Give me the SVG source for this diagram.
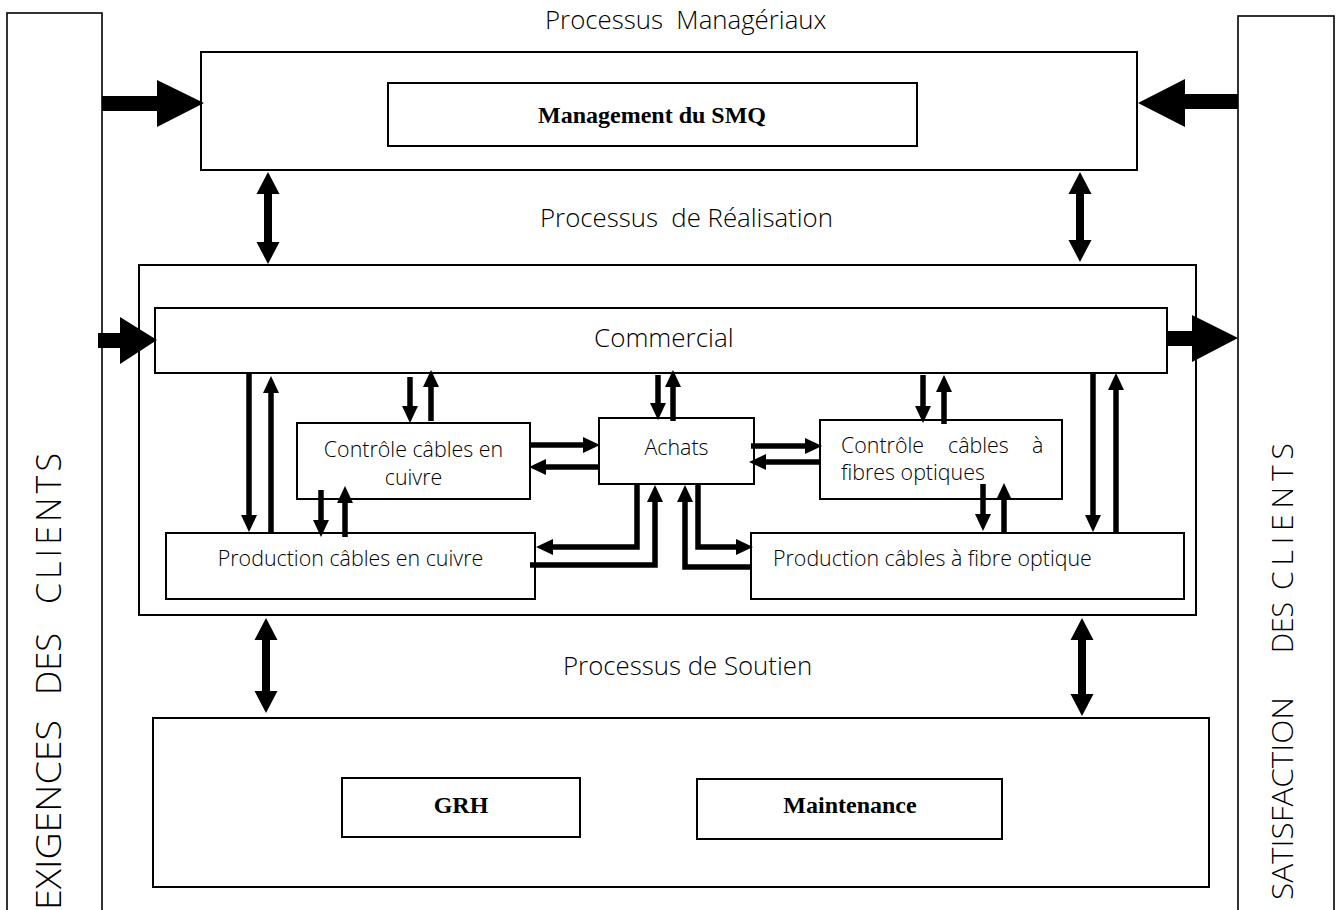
<svg xmlns="http://www.w3.org/2000/svg" width="1340" height="910" viewBox="0 0 1340 910">
<style>
.box{fill:#fff;stroke:#000;stroke-width:2}
.col{fill:#fff;stroke:#000;stroke-width:1.6}
.t{font-family:"Open Sans","Noto Sans",sans-serif;font-weight:300;font-size:21.4px;fill:#000}
.ttl{font-size:25.8px;white-space:pre}
.b{font-family:"Liberation Serif","Times New Roman",serif;font-weight:bold;font-size:24px;fill:#000}
.ar{stroke:#000;stroke-width:5.5;fill:none;marker-end:url(#ah)}
.fat{fill:#000;stroke:none}
</style>
<defs>
<marker id="ah" markerUnits="userSpaceOnUse" markerWidth="17" markerHeight="16" viewBox="0 0 17 16" refX="0" refY="8" orient="auto"><path d="M0,0 L17,8 L0,16 Z" fill="#000"/></marker>
</defs>
<rect width="1340" height="910" fill="#fff"/>

<g id="exigences">
<rect class="col" x="7" y="13" width="95" height="910"/>
<text class="t" style="font-size:34px" transform="translate(61,910) rotate(-90)" textLength="190" lengthAdjust="spacingAndGlyphs">EXIGENCES</text>
<text class="t" style="font-size:34px" transform="translate(61,695) rotate(-90)" textLength="62" lengthAdjust="spacingAndGlyphs">DES</text>
<text class="t" style="font-size:34px" transform="translate(61,604) rotate(-90)" textLength="151" lengthAdjust="spacing">CLIENTS</text>
</g>
<g id="satisfaction">
<rect class="col" x="1238" y="16" width="96" height="910"/>
<text class="t" style="font-size:30px" transform="translate(1293,900) rotate(-90)" textLength="203" lengthAdjust="spacingAndGlyphs">SATISFACTION</text>
<text class="t" style="font-size:30px" transform="translate(1293,653) rotate(-90)" textLength="51" lengthAdjust="spacingAndGlyphs">DES</text>
<text class="t" style="font-size:30px" transform="translate(1293,590) rotate(-90)" textLength="147" lengthAdjust="spacing">CLIENTS</text>
</g>

<g id="titres">
<text class="t ttl" x="545" y="29" xml:space="preserve">Processus  Managériaux</text>
<text class="t ttl" x="540" y="227" xml:space="preserve">Processus  de Réalisation</text>
<text class="t ttl" x="563" y="675">Processus de Soutien</text>
</g>

<g id="manageriaux">
<rect class="box" x="201" y="52" width="936" height="118"/>
</g>
<g id="smq">
<rect class="box" x="388" y="83" width="529" height="63"/>
<text class="b" x="652" y="123" text-anchor="middle">Management du SMQ</text>
</g>

<g id="realisation">
<rect class="box" x="139" y="265" width="1057" height="350"/>
</g>
<g id="commercial">
<rect class="box" x="155" y="308" width="1012" height="65"/>
<text class="t" style="font-size:26px" x="594" y="347">Commercial</text>
</g>
<g id="controle-cuivre">
<rect class="box" x="297" y="423" width="233" height="76"/>
<text class="t" x="413.5" y="457" text-anchor="middle">Contrôle câbles en</text>
<text class="t" x="413.5" y="485" text-anchor="middle">cuivre</text>
</g>
<g id="achats">
<rect class="box" x="599" y="418" width="155" height="66"/>
<text class="t" x="676.5" y="455" text-anchor="middle">Achats</text>
</g>
<g id="controle-fibres">
<rect class="box" x="820" y="420" width="242" height="79"/>
<text class="t" y="453"><tspan x="841">Contrôle</tspan><tspan x="948">câbles</tspan><tspan x="1032">à</tspan></text>
<text class="t" x="841" y="480">fibres optiques</text>
</g>
<g id="production-cuivre">
<rect class="box" x="166" y="533" width="369" height="66"/>
<text class="t" x="350.5" y="566" text-anchor="middle">Production câbles en cuivre</text>
</g>
<g id="production-fibre">
<rect class="box" x="751" y="533" width="433" height="66"/>
<text class="t" x="773" y="566">Production câbles à fibre optique</text>
</g>

<g id="soutien">
<rect class="box" x="153" y="718" width="1056" height="169"/>
</g>
<g id="grh">
<rect class="box" x="342" y="778" width="238" height="59"/>
<text class="b" x="461" y="813" text-anchor="middle">GRH</text>
</g>
<g id="maintenance">
<rect class="box" x="697" y="779" width="305" height="60"/>
<text class="b" x="850" y="813" text-anchor="middle">Maintenance</text>
</g>

<g id="connecteurs">
<polygon class="fat" points="102,96 157,96 157,80 204,103 157,127 157,111 102,111"/>
<polygon class="fat" points="1238,94 1185,94 1185,79 1138,103 1185,127 1185,109 1238,109"/>
<polygon class="fat" points="98,333 120,333 120,317 157,340 120,364 120,348 98,348"/>
<polygon class="fat" points="1167,331 1192,331 1192,315 1238,338 1192,362 1192,346 1167,346"/>
<polygon class="fat" points="268,172 279.5,194 272,194 272,242 279.5,242 268,264 256.5,242 264,242 264,194 256.5,194"/>
<polygon class="fat" points="1080,172 1091.5,194 1084,194 1084,240 1091.5,240 1080,262 1068.5,240 1076,240 1076,194 1068.5,194"/>
<polygon class="fat" points="266,618 277.5,640 270,640 270,691 277.5,691 266,713 254.5,691 262,691 262,640 254.5,640"/>
<polygon class="fat" points="1082,618 1093.5,640 1086,640 1086,694 1093.5,694 1082,716 1070.5,694 1078,694 1078,640 1070.5,640"/>

<line class="ar" x1="249" y1="373" x2="249" y2="515"/>
<line class="ar" x1="271" y1="533" x2="271" y2="393"/>
<line class="ar" x1="410" y1="377" x2="410" y2="406"/>
<line class="ar" x1="431" y1="421" x2="431" y2="387"/>
<line class="ar" x1="530" y1="445" x2="583" y2="445"/>
<line class="ar" x1="599" y1="467" x2="546" y2="467"/>
<line class="ar" x1="321" y1="490" x2="321" y2="520"/>
<line class="ar" x1="345" y1="537" x2="345" y2="503"/>
<line class="ar" x1="658" y1="375" x2="658" y2="403"/>
<line class="ar" x1="673" y1="421" x2="673" y2="387"/>
<line class="ar" x1="751" y1="446" x2="805" y2="446"/>
<line class="ar" x1="821" y1="462" x2="766" y2="462"/>
<line class="ar" x1="923" y1="375" x2="923" y2="406"/>
<line class="ar" x1="944" y1="424" x2="944" y2="392"/>
<line class="ar" x1="983" y1="484" x2="983" y2="514"/>
<line class="ar" x1="1004" y1="533" x2="1004" y2="500"/>
<line class="ar" x1="1093" y1="373" x2="1093" y2="515"/>
<line class="ar" x1="1116" y1="533" x2="1116" y2="390"/>
<path class="ar" d="M637,484 V547 H553"/>
<path class="ar" d="M530,565 H655 V502"/>
<path class="ar" d="M751,567 H685 V502"/>
<path class="ar" d="M698,484 V547 H736"/>
</g>
</svg>
